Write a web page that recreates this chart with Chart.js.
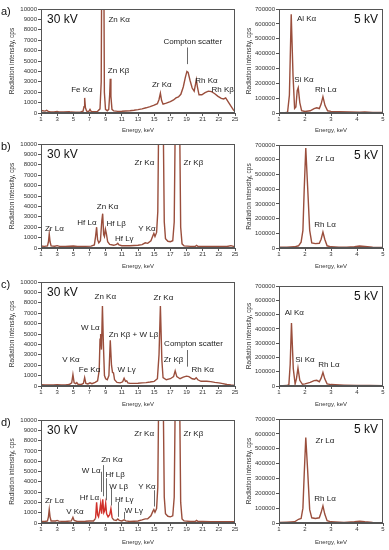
<!DOCTYPE html>
<html>
<head>
<meta charset="utf-8">
<script src="https://cdn.jsdelivr.net/npm/chart.js@4.4.1/dist/chart.umd.min.js"></script>
<style>
  body { margin: 0; background: #fff; width: 389px; height: 550px; position: relative; overflow: hidden; }
  canvas { position: absolute; }
</style>
</head>
<body>
<canvas id="a30" width="240" height="135" style="left:0;top:0"></canvas>
<canvas id="a5" width="149" height="135" style="left:240px;top:0"></canvas>
<canvas id="b30" width="240" height="136" style="left:0;top:135px"></canvas>
<canvas id="b5" width="149" height="136" style="left:240px;top:135px"></canvas>
<canvas id="c30" width="240" height="139" style="left:0;top:270px"></canvas>
<canvas id="c5" width="149" height="139" style="left:240px;top:270px"></canvas>
<canvas id="d30" width="240" height="142" style="left:0;top:405px"></canvas>
<canvas id="d5" width="149" height="142" style="left:240px;top:405px"></canvas>
<script>
var FONT = '"Liberation Sans", Arial, sans-serif';
var LINE = '#9a4e3c';

var xTicks30 = [1, 3, 5, 7, 9, 11, 13, 15, 17, 19, 21, 23, 25];
var xTicks5 = [1, 2, 3, 4, 5];
var yTicks30 = [0, 1000, 2000, 3000, 4000, 5000, 6000, 7000, 8000, 9000, 10000];
var yTicks5 = [0, 100000, 200000, 300000, 400000, 500000, 600000, 700000];

// a) 30 kV
var a30E = [1.0,1.2,1.5,1.7,1.9,2.2,2.6,3.0,3.2,3.8,4.5,4.7,5.3,5.9,6.2,6.32,6.4,6.5,6.65,6.9,7.06,7.2,7.6,8.0,8.3,8.45,8.55,8.64,8.74,8.84,8.98,9.2,9.38,9.5,9.57,9.65,9.78,10.0,10.5,11.0,11.5,12.0,12.5,13.0,13.5,14.0,14.5,15.0,15.4,15.6,15.77,15.92,16.1,16.5,17.0,17.4,17.7,18.0,18.3,18.6,18.85,19.05,19.2,19.45,19.7,19.95,20.1,20.22,20.35,20.55,20.9,21.3,21.7,22.1,22.5,22.9,23.3,23.6,23.85,24.1,24.5,24.8,25.0];
var a30I = [250,220,180,250,150,110,100,140,100,90,130,90,80,100,180,600,1450,500,180,140,350,150,130,160,400,3000,20000,60000,20000,2000,350,220,350,1800,3300,1600,350,200,160,170,190,210,260,320,400,500,620,750,900,1300,1900,1200,850,950,1100,1250,1450,1550,1800,2500,3400,4000,3900,3100,2400,2100,2700,3200,2500,1750,1750,1950,2100,2050,1850,1600,1400,1350,1450,1150,650,300,150];
// a) 5 kV
var a5E = [1.0,1.2,1.33,1.4,1.47,1.54,1.6,1.65,1.7,1.74,1.8,1.87,2.0,2.2,2.35,2.45,2.55,2.62,2.69,2.77,2.87,3.0,3.3,3.7,4.1,4.3,4.6,5.0];
var a5I = [0,1000,5000,120000,665000,250000,30000,40000,150000,170000,70000,15000,10000,15000,30000,35000,30000,60000,110000,50000,15000,11000,9000,7000,6000,7000,4000,3000];

// b) 30 kV
var b30E = [1.0,1.4,1.8,1.92,2.02,2.12,2.25,2.7,3.0,3.3,4.0,5.0,5.5,6.5,7.2,7.6,7.75,7.88,8.0,8.15,8.35,8.52,8.63,8.75,8.85,8.97,9.08,9.25,9.5,10.0,10.35,10.5,10.65,11.0,12.0,13.0,13.5,13.9,14.2,14.6,14.85,14.96,15.1,15.3,15.45,15.53,15.65,15.85,16.05,16.15,16.25,16.4,16.7,17.0,17.3,17.48,17.58,17.75,18.0,18.18,18.28,18.45,18.7,19.5,20.1,20.25,20.4,21.0,22.0,23.0,24.0,24.5,24.8,25.0];
var b30I = [200,160,200,600,1350,600,200,170,230,160,150,190,150,160,180,300,1100,2000,800,500,700,2600,3300,1300,1100,1800,1400,600,350,260,350,450,300,220,210,260,330,500,450,700,1200,1400,1100,1500,3500,10000,50000,100000,50000,10000,2500,900,650,600,700,2500,10000,40000,40000,10000,2000,400,200,160,170,260,170,150,150,160,150,230,160,150];
// b) 5 kV
var b5E = [1.0,1.3,1.6,1.75,1.85,1.92,1.97,2.03,2.1,2.18,2.26,2.4,2.55,2.62,2.69,2.76,2.85,3.0,3.3,3.6,3.9,4.1,4.3,4.6,5.0];
var b5I = [5000,6000,8000,15000,40000,120000,400000,680000,420000,120000,35000,30000,32000,60000,108000,60000,15000,8000,5000,5000,9000,14000,11000,5000,3000];

// c) 30 kV
var c30E = [1.0,1.5,2.0,2.5,3.0,3.5,4.0,4.5,4.8,4.95,5.1,5.3,5.43,5.6,6.0,6.25,6.4,6.55,6.8,7.06,7.3,7.7,8.0,8.2,8.3,8.38,8.48,8.6,8.72,8.85,9.0,9.2,9.4,9.57,9.72,9.85,9.97,10.1,10.4,10.8,11.1,11.28,11.45,11.6,11.75,12.0,12.5,13.0,13.5,14.0,14.5,15.0,15.4,15.6,15.77,15.95,16.1,16.5,17.0,17.4,17.6,17.8,18.2,18.6,19.0,19.3,19.7,20.0,20.2,20.4,20.8,21.5,22.0,22.5,23.0,23.5,24.0,24.5,25.0];
var c30I = [120,100,110,90,120,100,100,140,300,1100,300,220,320,150,150,250,800,250,200,300,220,350,500,1500,4500,5000,3500,7700,4000,1000,700,600,1000,4400,2000,1300,1250,600,350,300,400,750,450,500,300,250,250,260,300,320,380,450,700,3000,7700,2500,800,600,700,900,1450,900,700,850,950,900,700,650,800,600,450,450,420,350,300,230,150,100,60];
// c) 5 kV
var c5E = [1.0,1.3,1.38,1.43,1.48,1.55,1.62,1.67,1.73,1.8,1.9,2.0,2.2,2.35,2.45,2.55,2.62,2.69,2.76,2.85,3.0,3.5,4.0,4.5,5.0];
var c5I = [0,3000,10000,150000,440000,120000,15000,50000,125000,40000,12000,15000,25000,38000,40000,30000,55000,95000,50000,15000,10000,6000,4000,3000,2000];

// d) 30 kV
var d30E = [1.0,1.5,1.8,1.92,2.02,2.12,2.25,2.8,3.0,3.2,4.0,4.75,4.95,5.1,5.5,6.0,6.5,7.0,7.5,7.75,7.88,8.0,8.12,8.28,8.38,8.5,8.64,8.77,8.88,9.0,9.12,9.3,9.5,9.65,9.8,10.0,10.3,10.5,10.7,11.0,11.28,11.5,12.0,13.0,13.5,13.9,14.2,14.6,14.85,14.96,15.1,15.3,15.45,15.53,15.65,15.85,16.05,16.15,16.25,16.4,16.7,17.0,17.3,17.48,17.58,17.75,18.0,18.18,18.28,18.45,18.7,19.5,20.1,20.25,20.4,21.0,22.0,23.0,24.0,25.0];
var d30I = [150,150,200,600,1300,600,200,200,250,180,150,200,550,250,150,150,170,200,200,450,2000,800,600,1300,1900,900,2300,1000,1200,1900,900,600,800,1400,500,300,250,400,250,200,300,200,150,200,300,400,400,700,1150,1300,1050,1400,3500,10000,50000,100000,50000,10000,2500,900,650,600,700,2500,10000,40000,40000,10000,2000,400,200,150,160,250,160,150,130,130,130,120];
// d) 5 kV
var d5E = [1.0,1.3,1.6,1.75,1.85,1.92,1.97,2.03,2.1,2.18,2.26,2.4,2.55,2.62,2.69,2.76,2.85,3.0,3.5,3.9,4.1,4.3,4.6,5.0];
var d5I = [3000,5000,8000,25000,30000,100000,330000,575000,360000,90000,35000,30000,35000,70000,115000,60000,15000,8000,4000,8000,12000,8000,4000,2000];

// peak labels: text, energy, intensity
var a30Labels = [['Zn Kα',10.67,9000],['Fe Kα',6.06,2250],['Zn Kβ',10.6,4050],['Zr Kα',15.94,2700],['Compton scatter',19.77,6800],['Rh Kα',21.46,3100],['Rh Kβ',23.48,2260]];
var a5Labels = [['Al Kα',2.06,632000],['Si Kα',1.96,221000],['Rh Lα',2.8,158000]];
var b30Labels = [['Zr Lα',2.65,1830],['Hf Lα',6.68,2470],['Zn Kα',9.23,3970],['Hf Lβ',10.3,2340],['Hf Lγ',11.3,870],['Y Kα',14.1,1830],['Zr Kα',13.8,8170],['Zr Kβ',19.86,8170]];
var b5Labels = [['Zr Lα',2.77,605000],['Rh Lα',2.77,158000]];
var c30Labels = [['Zn Kα',8.95,8530],['W Lα',7.1,5600],['Zn Kβ + W Lβ',12.45,4900],['Compton scatter',19.86,4040],['Zr Kα',16.15,8500],['Zr Kβ',17.4,2500],['V Kα',4.7,2560],['Fe Kα',7.0,1600],['W Lγ',11.6,1600],['Rh Kα',21.0,1600]];
var c5Labels = [['Al Kα',1.59,514000],['Si Kα',2.0,186000],['Rh Lα',2.92,146000]];
var d30Labels = [['Zr Lα',2.65,2140],['V Kα',5.2,1110],['Hf Lα',7.0,2470],['W Lα',7.2,5050],['Zn Kα',9.77,6100],['Hf Lβ',10.18,4650],['W Lβ',10.6,3480],['Hf Lγ',11.3,2280],['W Lγ',12.5,1170],['Y Kα',14.1,3510],['Zr Kα',13.76,8700],['Zr Kβ',19.86,8700]];
var d5Labels = [['Zr Lα',2.77,554000],['Rh Lα',2.77,164000]];

// leader lines: energy, from, to
var a30Leaders = [[19.1,6300,4700]];
var c30Leaders = [[19.1,3460,1860]];
var d30Leaders = [[8.40,4970,3020],[8.66,5620,2600],[9.1,4350,2200],[9.65,3380,1700],[10.52,2050,600],[11.28,1070,400],[14.93,3180,1600]];

function decor(o) {
  return {
    id: 'decor',
    afterDatasetsDraw: function(chart) {
      var ctx = chart.ctx, ca = chart.chartArea;
      var x = chart.scales.x, y = chart.scales.y;
      ctx.save();
      ctx.strokeStyle = '#555';
      ctx.lineWidth = 1;
      ctx.strokeRect(Math.round(ca.left) + 0.5, Math.round(ca.top) + 0.5,
                     Math.round(ca.width) - 1, Math.round(ca.height) - 1);
      ctx.strokeStyle = '#444';
      ctx.lineWidth = 0.8;
      (o.leaders || []).forEach(function(l) {
        var px = Math.round(x.getPixelForValue(l[0])) + 0.5;
        ctx.beginPath();
        ctx.moveTo(px, y.getPixelForValue(l[1]));
        ctx.lineTo(px, y.getPixelForValue(l[2]));
        ctx.stroke();
      });
      ctx.fillStyle = '#222';
      ctx.font = '8px ' + FONT;
      ctx.textAlign = 'center';
      ctx.textBaseline = 'middle';
      (o.labels || []).forEach(function(l) {
        ctx.fillText(l[0], x.getPixelForValue(l[1]), y.getPixelForValue(l[2]));
      });
      ctx.font = '12px ' + FONT;
      ctx.fillStyle = '#111';
      if (o.kv === '30 kV') {
        ctx.textAlign = 'left';
        ctx.fillText(o.kv, ca.left + 6, ca.top + 11);
      } else {
        ctx.textAlign = 'right';
        ctx.fillText(o.kv, ca.right - 5, ca.top + 11);
      }
      if (o.panel) {
        ctx.font = '11px ' + FONT;
        ctx.textAlign = 'left';
        ctx.fillText(o.panel, 1, ca.top + 3);
      }
      ctx.restore();
    }
  };
}

function spectrum(id, E, I, o) {
  var pts = E.map(function(e, i) { return {x: e, y: I[i]}; });
  var ds = { data: pts, borderColor: LINE, borderWidth: 1.4, pointRadius: 0, tension: 0 };
  if (o.redFrom) {
    ds.segment = {
      borderColor: function(c) {
        return (c.p0.parsed.x >= o.redFrom && c.p1.parsed.x <= o.redTo) ? '#d0302a' : undefined;
      }
    };
  }
  return new Chart(document.getElementById(id), {
    type: 'line',
    data: { datasets: [ds] },
    options: {
      responsive: false,
      animation: false,
      events: [],
      layout: { padding: { top: o.top, right: o.right, left: 0, bottom: 0 } },
      plugins: { legend: { display: false }, tooltip: { enabled: false } },
      scales: {
        x: {
          type: 'linear', min: o.xt[0], max: o.xt[o.xt.length - 1],
          afterBuildTicks: function(s) { s.ticks = o.xt.map(function(v) { return {value: v}; }); },
          afterFit: function(s) { s.height = o.xh; },
          ticks: { font: { family: FONT, size: 6 }, color: '#333', padding: 0, maxRotation: 0, autoSkip: false },
          grid: { drawOnChartArea: false, tickLength: 3, color: '#555' },
          border: { color: '#555' },
          title: { display: true, text: 'Energy, keV', font: { family: FONT, size: 6 }, color: '#333', padding: { top: 0, bottom: 1 } }
        },
        y: {
          min: 0, max: o.yt[o.yt.length - 1],
          afterBuildTicks: function(s) { s.ticks = o.yt.map(function(v) { return {value: v}; }); },
          afterFit: function(s) { s.width = o.yw; },
          ticks: { font: { family: FONT, size: 6 }, color: '#333', padding: 1, autoSkip: false,
                   callback: function(v) { return String(v); } },
          grid: { drawOnChartArea: false, tickLength: 3, color: '#555' },
          border: { color: '#555' },
          title: { display: true, text: 'Radiation intensity, cps', font: { family: FONT, size: 6.5 }, color: '#333', padding: { top: o.tp, bottom: 0 } }
        }
      }
    },
    plugins: [decor(o)]
  });
}

var L = { xt: xTicks30, yt: yTicks30, yw: 41, right: 5, tp: 8, kv: '30 kV' };
var R = { xt: xTicks5, yt: yTicks5, yw: 39, right: 6, tp: 5, kv: '5 kV' };
function opt(base, extra) { var r = {}; for (var k in base) r[k] = base[k]; for (var k2 in extra) r[k2] = extra[k2]; return r; }

spectrum('a30', a30E, a30I, opt(L, { top: 9, xh: 22, panel: 'a)', labels: a30Labels, leaders: a30Leaders }));
spectrum('a5', a5E, a5I, opt(R, { top: 9, xh: 22, labels: a5Labels }));
spectrum('b30', b30E, b30I, opt(L, { top: 9, xh: 23, panel: 'b)', labels: b30Labels }));
spectrum('b5', b5E, b5I, opt(R, { top: 10, xh: 23, labels: b5Labels }));
spectrum('c30', c30E, c30I, opt(L, { top: 12, xh: 23, panel: 'c)', labels: c30Labels, leaders: c30Leaders }));
spectrum('c5', c5E, c5I, opt(R, { top: 16, xh: 23, labels: c5Labels }));
spectrum('d30', d30E, d30I, opt(L, { top: 15, xh: 24, panel: 'd)', labels: d30Labels, leaders: d30Leaders, redFrom: 7.7, redTo: 9.9 }));
spectrum('d5', d5E, d5I, opt(R, { top: 14, xh: 24, labels: d5Labels }));
</script>
</body>
</html>
